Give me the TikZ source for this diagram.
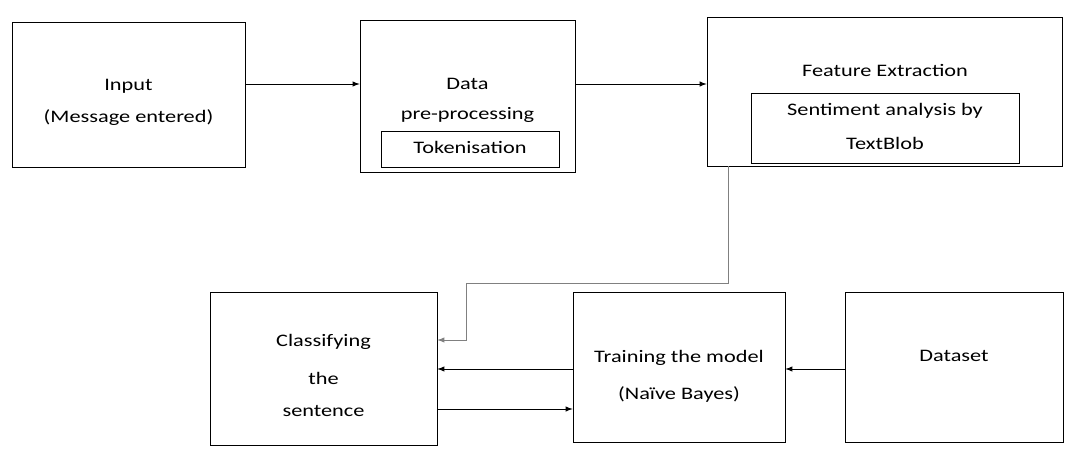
\documentclass[tikz,border=0pt]{standalone}
\usepackage{fontspec}
\setmainfont{Carlito}
\usetikzlibrary{positioning}

\begin{document}
\begin{tikzpicture}[x=0.02cm, y=-0.02cm, >=latex, thin]
\tikzset{
  block/.style={draw, thin, fill=white, inner sep=0pt},
  label/.style={font=\fontsize{10}{12}\selectfont, inner sep=0pt, xscale=1.27, transform shape},
  flow/.style={->, thin}
}
\useasboundingbox (0,0) rectangle (1077,453);

% Cajas principales
\node[block, minimum width=4.66cm, minimum height=2.9cm] (input) at (128.5,94.5) {};
\node[block, minimum width=4.3cm, minimum height=3.04cm] (prep) at (467.5,96) {};
\node[block, minimum width=7.1cm, minimum height=2.98cm] (feat) at (884.5,91.5) {};
\node[block, minimum width=4.54cm, minimum height=3.06cm] (clas) at (323.5,368.5) {};
\node[block, minimum width=4.24cm, minimum height=3cm] (train) at (679,367) {};
\node[block, minimum width=4.36cm, minimum height=3cm] (data) at (954,367) {};

% Cajas internas
\node[block, minimum width=3.56cm, minimum height=0.72cm] (tok) at (470,149) {};
\node[block, minimum width=5.36cm, minimum height=1.4cm] (senti) at (885,128) {};

% Textos
\node[label] at (128.5,86) {Input};
\node[label] at (128.5,118) {(Message entered)};
\node[label] at (467.5,84) {Data};
\node[label] at (467.5,115) {pre-processing};
\node[label] at (470,147) {Tokenisation};
\node[label] at (885,70) {Feature Extraction};
\node[label] at (885,111) {Sentiment analysis by};
\node[label] at (885,143) {TextBlob};
\node[label] at (323.5,342) {Classifying};
\node[label] at (323.5,378) {the};
\node[label] at (323.5,411) {sentence};
\node[label] at (679,358) {Training the model};
\node[label] at (679,394) {(Naïve Bayes)};
\node[label] at (954,356) {Dataset};

% Flechas
\draw[flow] (input.east |- 0,84) -- (prep.west |- 0,84);
\draw[flow] (prep.east |- 0,84) -- (feat.west |- 0,84);
\coordinate (fdown) at (728,283);
\coordinate (fleft) at (466,283);
\draw[flow, gray] (feat.south -| fdown) -- (fdown) -- (fleft) -- (466,340) -- (clas.east |- 0,340);
\draw[flow] (train.west |- 0,369) -- (clas.east |- 0,369);
\draw[flow] (clas.east |- 0,409) -- (train.west |- 0,409);
\draw[flow] (data.west |- 0,369) -- (train.east |- 0,369);
\end{tikzpicture}
\end{document}
